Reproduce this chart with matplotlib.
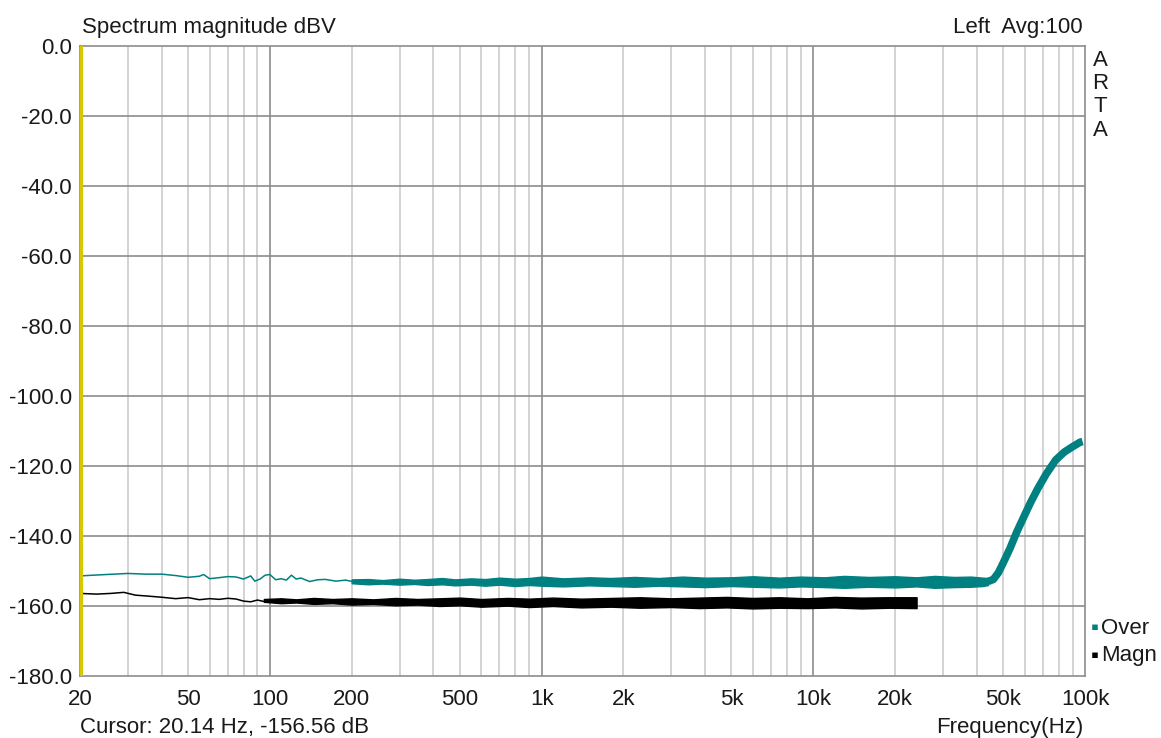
import matplotlib.pyplot as plt
import numpy as np

plt.rcParams['font.family'] = ['Liberation Sans', 'DejaVu Sans']
plt.rcParams['axes.unicode_minus'] = False

TEAL = '#008080'

# "Over" trace: thin low-frequency part (Hz, dBV)
over_f = [20, 25, 30, 35, 40, 45, 50, 55, 57, 60, 65, 70, 75, 80, 85, 88, 92,
          96, 100, 105, 110, 115, 120, 125, 130, 140, 150, 160, 175, 190, 210]
over_db = [-151.4, -151.0, -150.7, -150.9, -150.9, -151.3, -151.8, -151.5,
           -151.0, -152.2, -151.9, -151.6, -151.7, -152.3, -151.4, -152.9,
           -152.3, -151.2, -151.0, -152.5, -152.2, -152.6, -151.2, -152.3,
           -152.0, -153.0, -152.5, -152.4, -152.9, -152.6, -153.3]
# "Over" noise band (upper / lower envelope) from 200 Hz to the rise
over_band_f = [200, 230, 260, 300, 340, 380, 430, 480, 550, 620, 700, 800,
               900, 1000, 1200, 1500, 1800, 2200, 2700, 3300, 4000, 5000,
               6000, 7500, 9000, 11000, 13000, 16000, 20000, 24000, 28000,
               33000, 38000, 42000, 44000]
over_band_hi = [-152.4, -152.3, -152.6, -152.2, -152.5, -152.3, -152.0,
                -152.4, -152.1, -152.3, -151.9, -152.2, -152.0, -151.6,
                -152.1, -151.8, -152.0, -151.7, -152.0, -151.6, -151.9,
                -151.8, -151.5, -151.9, -151.6, -151.8, -151.4, -151.7,
                -151.5, -151.8, -151.4, -151.7, -151.6, -151.9, -152.0]
over_band_lo = [-153.5, -153.8, -153.6, -153.9, -153.7, -154.0, -153.8,
                -154.1, -153.9, -154.2, -153.9, -154.3, -154.0, -154.2,
                -154.4, -154.1, -154.3, -154.5, -154.2, -154.4, -154.6,
                -154.3, -154.5, -154.7, -154.4, -154.6, -154.8, -154.5,
                -154.7, -154.4, -154.8, -154.6, -154.5, -154.3, -154.0]
# "Over" rise above 44 kHz
rise_f = [44000, 46000, 48000, 50000, 53000, 56000, 60000, 63000, 67000,
          72000, 78000, 84000, 90000, 96000, 98000]
rise_db = [-153.0, -152.4, -150.5, -147.7, -143.5, -139.0, -134.0, -130.5,
           -126.5, -122.3, -118.3, -116.0, -114.5, -113.2, -113.0]

# "Magn" trace: thin low-frequency part
magn_f = [20, 23, 26, 29, 32, 36, 40, 45, 50, 55, 60, 65, 70, 75, 80, 85, 90,
          95, 100]
magn_db = [-156.4, -156.6, -156.4, -156.1, -156.9, -157.2, -157.5, -157.9,
           -157.6, -158.2, -157.9, -158.1, -157.8, -158.0, -158.6, -158.8,
           -158.3, -158.7, -158.3]
magn_band_f = [95, 110, 125, 145, 170, 200, 240, 290, 350, 420, 500, 600,
               750, 900, 1100, 1400, 1800, 2300, 3000, 3800, 4800, 6000,
               7500, 9500, 12000, 15000, 19000, 24000]
magn_band_hi = [-158.0, -157.8, -158.1, -157.7, -158.0, -157.8, -158.1,
                -157.7, -158.0, -157.8, -157.6, -158.0, -157.7, -157.9,
                -157.6, -157.9, -157.7, -157.5, -157.8, -157.6, -157.4,
                -157.7, -157.5, -157.8, -157.4, -157.6, -157.5, -157.5]
magn_band_lo = [-158.8, -159.2, -159.0, -159.4, -159.2, -159.6, -159.4,
                -159.8, -159.6, -160.0, -159.8, -160.2, -159.9, -160.3,
                -160.0, -160.4, -160.2, -160.5, -160.3, -160.6, -160.4,
                -160.7, -160.5, -160.6, -160.4, -160.7, -160.5, -160.6]

x_ticks = [20, 50, 100, 200, 500, 1000, 2000, 5000, 10000, 20000, 50000, 100000]
x_labels = ['20', '50', '100', '200', '500', '1k', '2k', '5k', '10k', '20k',
            '50k', '100k']
y_ticks = list(range(0, -181, -20))

FS = 16

fig = plt.figure(figsize=(11.61, 7.38), dpi=100)
ax = fig.add_axes([0.0689, 0.0840, 0.8656, 0.8537])
ax.set_xscale('log')
ax.set_xlim(20, 100000)
ax.set_ylim(-180, 0)

# grid
minor = [m * 10 ** d for d in range(1, 5) for m in range(2, 10)]
for f in minor:
    if 20 < f < 100000:
        ax.axvline(f, color='#cccccc', lw=1.2, zorder=0)
for f in [100, 1000, 10000]:
    ax.axvline(f, color='#8c8c8c', lw=1.2, zorder=0)
for y in y_ticks[1:-1]:
    ax.axhline(y, color='#8c8c8c', lw=1.2, zorder=0)

ax.fill_between(magn_band_f, magn_band_lo, magn_band_hi, color='black', lw=1.0, zorder=2)
ax.plot(magn_f, magn_db, color='black', lw=1.1, zorder=2)

ax.fill_between(over_band_f, over_band_lo, over_band_hi, color=TEAL, lw=1.0, zorder=3)
ax.plot(over_f, over_db, color=TEAL, lw=1.1, zorder=3)
ax.plot(rise_f, rise_db, color=TEAL, lw=5.5, solid_capstyle='butt', zorder=3)

# cursor line
ax.axvline(20.14, color='#d8c800', lw=2.2, zorder=4)

ax.set_xticks(x_ticks)
ax.set_xticklabels(x_labels)
ax.xaxis.set_minor_locator(plt.NullLocator())
ax.set_yticks(y_ticks)
ax.set_yticklabels([f'{v:.1f}' for v in y_ticks])
ax.tick_params(length=0, labelsize=FS, colors='#1a1a1a', pad=6)
ax.tick_params(axis='x', pad=9)
for s in ax.spines.values():
    s.set_color('#8c8c8c')
    s.set_linewidth(1.2)

fig.text(82 / 1161, 1 - 28 / 738, 'Spectrum magnitude dBV', fontsize=FS,
         ha='left', va='center', color='#1a1a1a')
fig.text(1083 / 1161, 1 - 28 / 738, 'Left  Avg:100', fontsize=FS,
         ha='right', va='center', color='#1a1a1a')
for i, ch in enumerate('ARTA'):
    fig.text(1100 / 1161, 1 - (60 + i * 23.5) / 738, ch, fontsize=FS,
             ha='center', va='center', color='#1a1a1a')
fig.text(80 / 1161, 1 - 727 / 738, 'Cursor: 20.14 Hz, -156.56 dB',
         fontsize=FS, ha='left', va='center', color='#1a1a1a')
fig.text(1083 / 1161, 1 - 727 / 738, 'Frequency(Hz)', fontsize=FS,
         ha='right', va='center', color='#1a1a1a')
fig.text(1091 / 1161, 1 - 629 / 738, '▪', fontsize=FS, color=TEAL,
         ha='left', va='center')
fig.text(1101 / 1161, 1 - 628 / 738, 'Over', fontsize=FS, color='#1a1a1a',
         ha='left', va='center')
fig.text(1091 / 1161, 1 - 656 / 738, '▪', fontsize=FS, color='black',
         ha='left', va='center')
fig.text(1101 / 1161, 1 - 655 / 738, 'Magn', fontsize=FS, color='#1a1a1a',
         ha='left', va='center')

fig.savefig('out.png', dpi=100)
